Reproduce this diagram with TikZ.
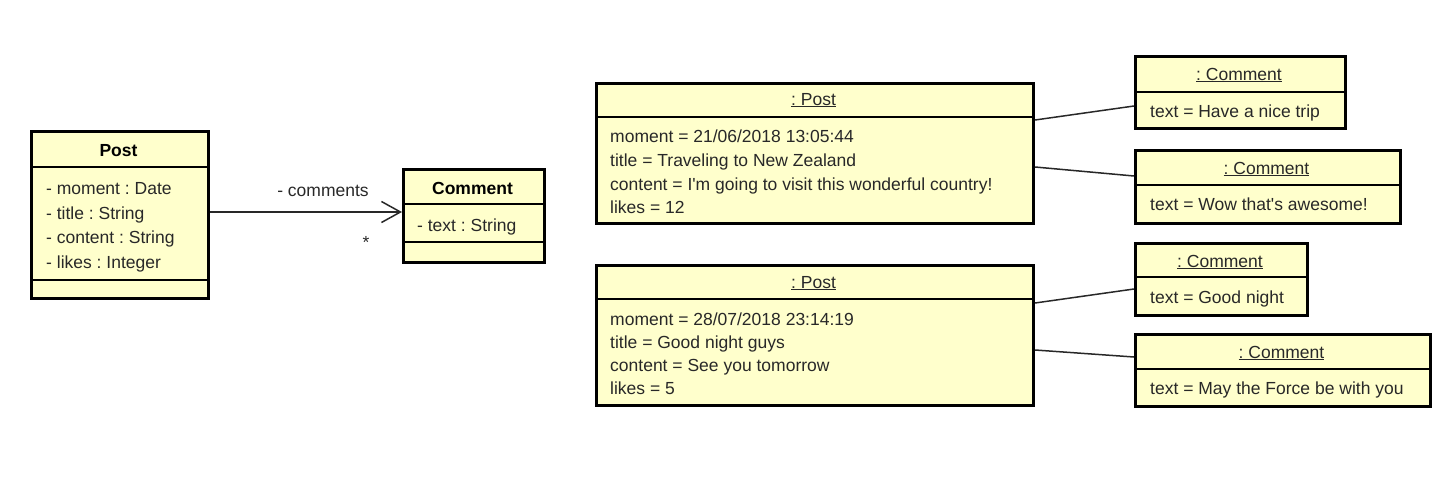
\documentclass[tikz,border=0pt]{standalone}
\usepackage{fontspec}
\setmainfont{Liberation Sans}
\usetikzlibrary{arrows.meta}
\definecolor{boxfill}{RGB}{255,255,204}
\definecolor{txt}{RGB}{40,40,40}
\begin{document}
\frenchspacing
\begin{tikzpicture}[x=1pt,y=-1pt,
  box/.style={draw=black,line width=3pt,fill=boxfill,rectangle,inner sep=0pt,anchor=north west},
  sep/.style={draw=black,line width=1.3pt},
  lbl/.style={text=txt,inner sep=0pt,anchor=base,font=\fontsize{17.5}{20}\selectfont},
  ttl/.style={lbl,font=\fontsize{17.5}{20}\selectfont\bfseries,text=black},
  att/.style={lbl,anchor=base west},
  link/.style={draw=txt,line width=1.5pt}]
\useasboundingbox (0,0) rectangle (1446,498);

% ---------- class Post ----------
\node[box,minimum width=177pt,minimum height=167pt] (P) at (30,130) {};
\draw[sep] (30,167) -- (207,167);
\draw[sep] (30,280) -- (207,280);
\node[ttl] (Pn) at (118.5,156) {Post};
\node[att] (Pa1) at (46,194) {- moment : Date};
\node[att] (Pa2) at (46,219) {- title : String};
\node[att] (Pa3) at (46,243) {- content : String};
\node[att] (Pa4) at (46,268) {- likes : Integer};

% ---------- class Comment ----------
\node[box,minimum width=141pt,minimum height=93pt] (C) at (402,168) {};
\draw[sep] (402,204) -- (543,204);
\draw[sep] (402,242) -- (543,242);
\node[ttl] (Cn) at (472.5,194) {Comment};
\node[att] (Ca1) at (417,231) {- text : String};

% association
\draw[link,-{Straight Barb[length=19pt,width=21pt,line width=1.5pt]}] (P.east |- 0,212) -- (C.west |- 0,212);
\node[lbl] (role) at (323,196) {- comments};
\node[lbl] (mult) at (366,248) {*};

% ---------- object Post 1 ----------
\node[box,minimum width=437pt,minimum height=140pt] (O1) at (595,82) {};
\draw[sep] (595,117) -- (1032,117);
\node[lbl] (O1n) at (813.5,105) {\underline{: Post}};
\node[att] (O1a) at (610,142) {moment = 21/06/2018 13:05:44};
\node[att] (O1b) at (610,166) {title = Traveling to New Zealand};
\node[att] (O1c) at (610,190) {content = I\textquotesingle m going to visit this wonderful country!};
\node[att] (O1d) at (610,213) {likes = 12};

% comment objects 1, 2
\node[box,minimum width=210pt,minimum height=72pt] (K1) at (1134,55) {};
\draw[sep] (1134,92) -- (1344,92);
\node[lbl] (K1n) at (1239,80) {\underline{: Comment}};
\node[att] (K1a) at (1150,117) {text = Have a nice trip};

\node[box,minimum width=265pt,minimum height=73pt] (K2) at (1134,149) {};
\draw[sep] (1134,185) -- (1399,185);
\node[lbl] (K2n) at (1266.5,174) {\underline{: Comment}};
\node[att] (K2a) at (1150,210) {text = Wow that\textquotesingle s awesome!};

\draw[link] (O1.east |- 0,120) -- (K1.west |- 0,106);
\draw[link] (O1.east |- 0,167) -- (K2.west |- 0,176);

% ---------- object Post 2 ----------
\node[box,minimum width=437pt,minimum height=140pt] (O2) at (595,264) {};
\draw[sep] (595,299) -- (1032,299);
\node[lbl] (O2n) at (813.5,288) {\underline{: Post}};
\node[att] (O2a) at (610,325) {moment = 28/07/2018 23:14:19};
\node[att] (O2b) at (610,348) {title = Good night guys};
\node[att] (O2c) at (610,371) {content = See you tomorrow};
\node[att] (O2d) at (610,394) {likes = 5};

% comment objects 3, 4
\node[box,minimum width=172pt,minimum height=72pt] (K3) at (1134,242) {};
\draw[sep] (1134,277) -- (1306,277);
\node[lbl] (K3n) at (1220,267) {\underline{: Comment}};
\node[att] (K3a) at (1150,303) {text = Good night};

\node[box,minimum width=295pt,minimum height=72pt] (K4) at (1134,333) {};
\draw[sep] (1134,369) -- (1429,369);
\node[lbl] (K4n) at (1281.5,358) {\underline{: Comment}};
\node[att] (K4a) at (1150,394) {text = May the Force be with you};

\draw[link] (O2.east |- 0,303) -- (K3.west |- 0,289);
\draw[link] (O2.east |- 0,350) -- (K4.west |- 0,357);
\end{tikzpicture}
\end{document}
